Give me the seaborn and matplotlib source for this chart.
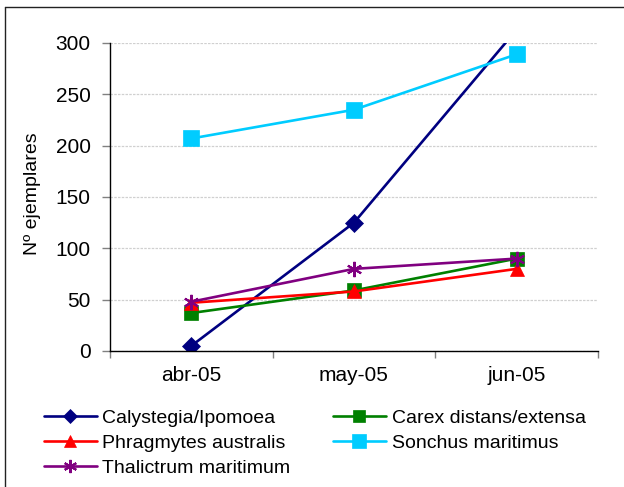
import matplotlib
matplotlib.use("Agg")
import matplotlib.pyplot as plt
from matplotlib.lines import Line2D
import seaborn as sns
import pandas as pd

months = ["abr-05", "may-05", "jun-05"]
calystegia = [5, 125, 313]
carex = [37, 59, 90]
phragmytes = [47, 58, 80]
sonchus = [207, 235, 289]
thalictrum = [48, 80, 90]

names = ["Calystegia/Ipomoea", "Carex distans/extensa", "Phragmytes australis",
         "Sonchus maritimus", "Thalictrum maritimum"]
values = [calystegia, carex, phragmytes, sonchus, thalictrum]
colors = ["#000080", "#008000", "#FF0000", "#00CCFF", "#800080"]
markers = ["D", "s", "^", "s", (6, 2, 0)]
msizes = [9, 10, 10, 11, 11]

sns.set_theme(style="white")
plt.rcParams['font.family'] = ['Liberation Sans', 'DejaVu Sans']
plt.rcParams['text.color'] = 'black'
plt.rcParams['axes.labelcolor'] = 'black'
plt.rcParams['xtick.color'] = 'black'
plt.rcParams['ytick.color'] = 'black'

fig = plt.figure(figsize=(6.24, 4.87), dpi=100)
ax = fig.add_axes([110/624, 1-351/487, 488/624, 308/487])

rows = []
for n, v in zip(names, values):
    for m, y in zip(months, v):
        rows.append({"month": m, "count": y, "series": n})
df = pd.DataFrame(rows)

handles = {}
for n, c, mk, ms in zip(names, colors, markers, msizes):
    sub = df[df["series"] == n]
    mew = 1.5 if mk == (6, 2, 0) else 0.5
    sns.lineplot(data=sub, x="month", y="count", ax=ax, color=c, linewidth=1.9,
                 marker=mk, markersize=ms, markeredgecolor=c,
                 markeredgewidth=mew, sort=False, legend=False)
    handles[n] = Line2D([], [], color=c, linewidth=1.9, marker=mk,
                        markersize=ms - 1.5, markeredgecolor=c, markeredgewidth=mew)

ax.set_ylim(0, 300)
ax.set_xlim(-0.5, 2.5)
ax.set_yticks([0, 50, 100, 150, 200, 250, 300])
ax.set_xticks([0, 1, 2])
ax.set_xticklabels(months)
ax.set_xticks([-0.5, 0.5, 1.5, 2.5], minor=True)
ax.tick_params(axis="x", which="major", length=0, pad=11, labelsize=15, labelcolor="black")
ax.tick_params(axis="x", which="minor", length=5, width=1, color="#808080", bottom=True)
ax.tick_params(axis="y", which="major", length=6, width=1, color="#808080", pad=8,
               labelsize=15, left=True, labelcolor="black")
ax.grid(axis="y", color="#D0D0D0", linestyle=(0, (2, 1)), linewidth=0.9)
ax.set_axisbelow(True)
for s in ["top", "right"]:
    ax.spines[s].set_visible(False)
for s in ["left", "bottom"]:
    ax.spines[s].set_color("black")
    ax.spines[s].set_linewidth(1.0)

ax.set_xlabel("")
ax.set_ylabel("Nº ejemplares", fontsize=14, color="black")
ax.yaxis.set_label_coords(-0.142, 0.51)

order = ["Calystegia/Ipomoea", "Phragmytes australis", "Thalictrum maritimum",
         "Carex distans/extensa", "Sonchus maritimus"]
fig.legend([handles[n] for n in order], order, loc="upper left",
           bbox_to_anchor=(44/624, 1-409/487), ncol=2, frameon=False,
           fontsize=14, handlelength=2.7, handletextpad=0.3, columnspacing=2.2,
           labelspacing=0.38, borderpad=0, borderaxespad=0, labelcolor="black")

fig.add_artist(Line2D([4.5/624, 4.5/624], [-0.05, 1-6.5/487],
                      transform=fig.transFigure, color="#222222", linewidth=1))
fig.add_artist(Line2D([4.5/624, 1.05], [1-6.5/487, 1-6.5/487],
                      transform=fig.transFigure, color="#222222", linewidth=1))

fig.savefig("out.png", dpi=100)
